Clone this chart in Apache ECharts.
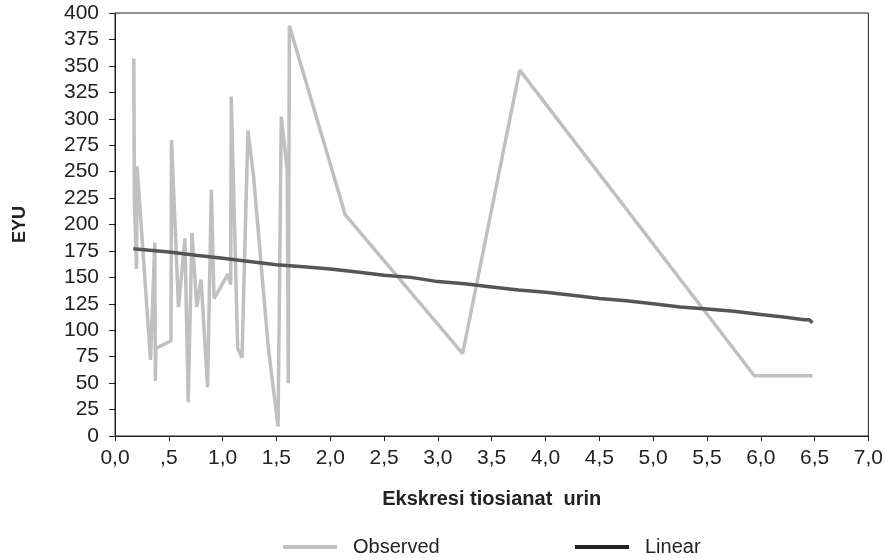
<!DOCTYPE html>
<html>
<head>
<meta charset="utf-8">
<script src="https://cdn.jsdelivr.net/npm/echarts@6/dist/echarts.min.js"></script>
<style>
  html, body { margin: 0; padding: 0; background: #fff; }
  #chart { width: 886px; height: 558px; }
</style>
</head>
<body>
<div id="chart"></div>
<script>
const obsX = [0.175, 0.18, 0.20, 0.205, 0.33, 0.37, 0.375, 0.38, 0.52, 0.525, 0.59, 0.65, 0.68, 0.715,
  0.76, 0.80, 0.86, 0.895, 0.92, 1.05, 1.075, 1.08, 1.14, 1.18, 1.235, 1.285, 1.425, 1.515, 1.545,
  1.60, 1.61, 1.62, 2.14, 3.23, 3.76, 5.94, 6.48]
const obsY = [357, 222, 158, 255, 72, 183, 52, 83, 90, 280, 122, 187, 32, 192,
  122, 148, 46, 233, 130, 153, 143, 321, 83, 74, 289, 248, 83, 9, 302,
  252, 50, 388, 209, 78, 346, 57, 57]

// linear fit line
const linX = [0.17, 0.5, 0.75, 1.0, 1.25, 1.5, 1.75, 2.0, 2.25, 2.5, 2.75, 3.0, 3.25, 3.5, 3.75,
  4.0, 4.25, 4.5, 4.75, 5.0, 5.25, 5.5, 5.75, 6.0, 6.25, 6.4, 6.45, 6.48]
const linY = [177, 174, 171, 168, 165, 162, 160, 158, 155, 152, 150, 146, 144, 141, 138,
  136, 133, 130, 128, 125, 122, 120, 118, 115, 112, 110, 110, 107]

const xTickLabels = ['0,0', ',5', '1,0', '1,5', '2,0', '2,5', '3,0', '3,5', '4,0', '4,5',
  '5,0', '5,5', '6,0', '6,5', '7,0']

const font = 'Liberation Sans, Arial, sans-serif'

let chart = echarts.init(document.getElementById('chart'))
chart.setOption({
  animation: false,
  grid: {
    left: 115,
    right: 17,
    top: 13,
    bottom: 122,
    show: true,
    borderColor: '#222',
    borderWidth: 1,
  },
  legend: [
    {
      left: 283,
      top: 537,
      padding: 0,
      icon: 'rect',
      itemWidth: 54,
      itemHeight: 4,
      data: [{ name: 'Observed', itemStyle: { color: '#c0c0c2' } }],
      textStyle: { fontFamily: font, fontSize: 20, color: '#222', padding: [0, 0, 0, 11] },
    },
    {
      left: 575,
      top: 537,
      padding: 0,
      icon: 'rect',
      itemWidth: 54,
      itemHeight: 4,
      data: [{ name: 'Linear', itemStyle: { color: '#222' } }],
      textStyle: { fontFamily: font, fontSize: 20, color: '#222', padding: [0, 0, 0, 11] },
    },
  ],
  xAxis: {
    type: 'value',
    min: 0,
    max: 7,
    interval: 0.5,
    name: 'Ekskresi tiosianat  urin',
    nameLocation: 'middle',
    nameGap: 53,
    nameTextStyle: { fontFamily: font, fontSize: 20, fontWeight: 'bold', color: '#222' },
    axisLine: { lineStyle: { color: '#222', width: 1 } },
    axisTick: { show: true, length: 5, lineStyle: { color: '#222' } },
    axisLabel: {
      margin: 12,
      fontFamily: font,
      fontSize: 21,
      color: '#222',
      formatter: (v) => xTickLabels[Math.round(v / 0.5)],
    },
    splitLine: { show: false },
  },
  yAxis: {
    type: 'value',
    min: 0,
    max: 400,
    interval: 25,
    name: 'EYU',
    nameLocation: 'middle',
    nameGap: 86,
    nameTextStyle: { fontFamily: font, fontSize: 18, fontWeight: 'bold', color: '#222' },
    axisLine: { show: true, lineStyle: { color: '#222', width: 1 } },
    axisTick: { show: true, length: 6, lineStyle: { color: '#222' } },
    axisLabel: { margin: 16, fontFamily: font, fontSize: 21, color: '#222' },
    splitLine: { show: false },
  },
  series: [
    {
      name: 'Observed',
      type: 'line',
      symbol: 'none',
      lineStyle: { color: '#c0c0c2', width: 3.5 },
      itemStyle: { color: '#c0c0c2' },
      data: obsX.map((x, i) => [x, obsY[i]]),
      z: 2,
    },
    {
      name: 'Linear',
      type: 'line',
      symbol: 'none',
      lineStyle: { color: '#555', width: 3.5 },
      itemStyle: { color: '#222' },
      data: linX.map((x, i) => [x, linY[i]]),
      z: 3,
    },
  ],
})
</script>
</body>
</html>
